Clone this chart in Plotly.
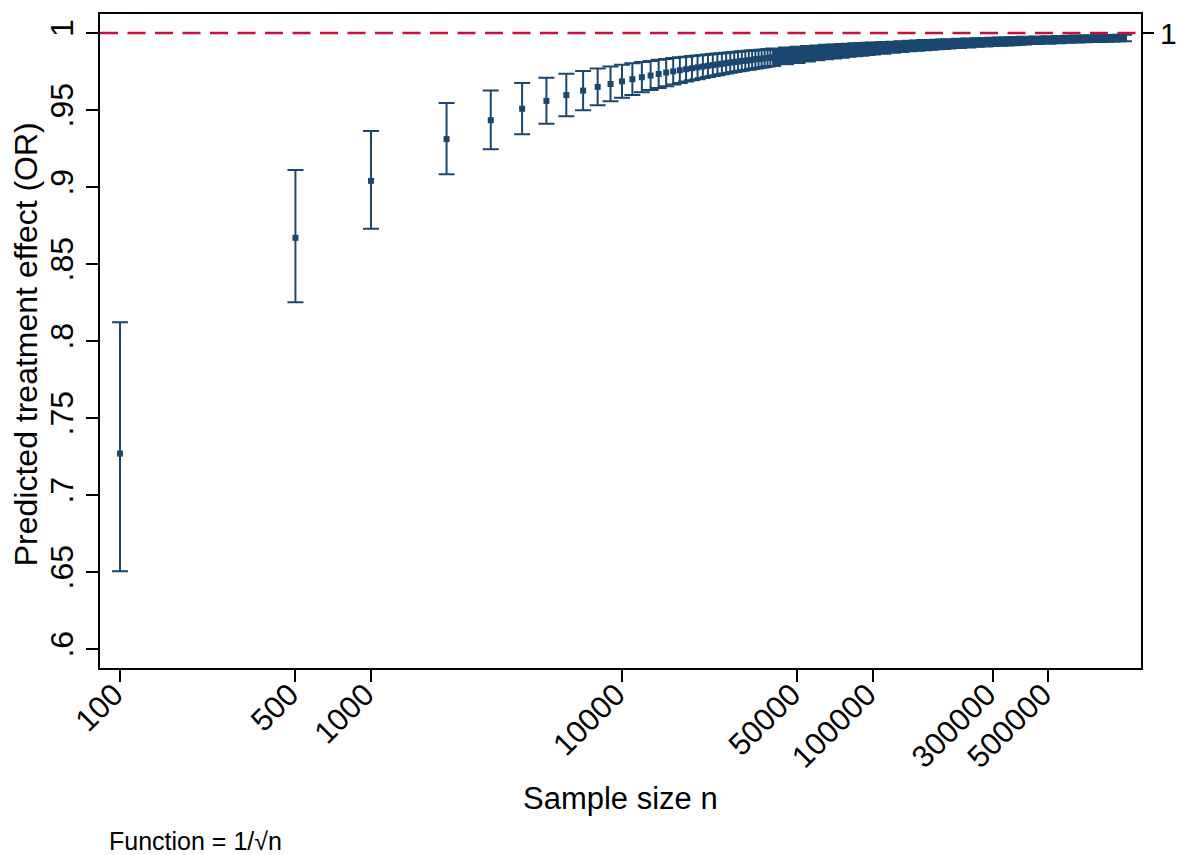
import numpy as np
import plotly.graph_objects as go

# ---------------- data ----------------
sample_n = [100, 500, 1000, 2000, 3000, 4000, 5000, 6000, 7000, 8000, 9000, 10000,
            11000, 12000, 13000, 14000, 15000, 16000, 17000, 18000, 19000, 20000,
            21000, 22000, 23000, 24000, 25000, 26000, 27000, 28000, 29000, 30000,
            31000, 32000, 33000, 34000, 35000, 36000, 37000, 38000, 39000, 40000,
            45000, 50000, 55000, 60000, 65000, 70000, 75000, 80000, 85000, 90000, 95000, 100000,
            110000, 120000, 130000, 140000, 150000, 160000, 170000, 180000, 190000, 200000,
            220000, 240000, 260000, 280000, 300000, 320000, 340000, 360000, 380000, 400000,
            450000, 500000, 550000, 600000, 650000, 700000, 750000, 800000, 850000, 900000, 950000, 1000000]

or_est = [0.7269, 0.8670, 0.9040, 0.9311, 0.9434, 0.9508, 0.9559, 0.9597, 0.9626, 0.9650, 0.9669, 0.9686,
          0.9700, 0.9713, 0.9724, 0.9734, 0.9743, 0.9751, 0.9758, 0.9765, 0.9771, 0.9777,
          0.9782, 0.9787, 0.9792, 0.9796, 0.9800, 0.9804, 0.9808, 0.9811, 0.9814, 0.9818,
          0.9820, 0.9823, 0.9826, 0.9829, 0.9831, 0.9833, 0.9836, 0.9838, 0.9840, 0.9842,
          0.9851, 0.9858, 0.9865, 0.9871, 0.9876, 0.9880, 0.9884, 0.9888, 0.9891, 0.9894, 0.9897, 0.9900,
          0.9904, 0.9908, 0.9912, 0.9915, 0.9918, 0.9921, 0.9923, 0.9925, 0.9927, 0.9929,
          0.9932, 0.9935, 0.9938, 0.9940, 0.9942, 0.9944, 0.9945, 0.9947, 0.9948, 0.9950,
          0.9953, 0.9955, 0.9957, 0.9959, 0.9960, 0.9962, 0.9963, 0.9964, 0.9965, 0.9966, 0.9967, 0.9968]

ci_low = [0.6505, 0.8251, 0.8729, 0.9083, 0.9245, 0.9343, 0.9410, 0.9460, 0.9499, 0.9531, 0.9557, 0.9579,
          0.9598, 0.9615, 0.9630, 0.9643, 0.9655, 0.9666, 0.9676, 0.9685, 0.9693, 0.9700,
          0.9708, 0.9714, 0.9720, 0.9726, 0.9732, 0.9737, 0.9742, 0.9746, 0.9751, 0.9755,
          0.9759, 0.9762, 0.9766, 0.9770, 0.9773, 0.9776, 0.9779, 0.9782, 0.9785, 0.9785,
          0.9797, 0.9806, 0.9815, 0.9823, 0.9830, 0.9835, 0.9840, 0.9845, 0.9849, 0.9853, 0.9857, 0.9861,
          0.9866, 0.9872, 0.9877, 0.9881, 0.9885, 0.9888, 0.9891, 0.9894, 0.9896, 0.9899,
          0.9903, 0.9906, 0.9910, 0.9913, 0.9915, 0.9918, 0.9919, 0.9921, 0.9923, 0.9925,
          0.9929, 0.9931, 0.9934, 0.9936, 0.9938, 0.9940, 0.9941, 0.9942, 0.9944, 0.9945, 0.9946, 0.9947]

ci_high = [0.8121, 0.9111, 0.9363, 0.9545, 0.9627, 0.9676, 0.9710, 0.9735, 0.9754, 0.9770, 0.9783, 0.9794,
           0.9804, 0.9812, 0.9819, 0.9826, 0.9832, 0.9837, 0.9842, 0.9846, 0.9850, 0.9854,
           0.9857, 0.9861, 0.9864, 0.9867, 0.9869, 0.9872, 0.9874, 0.9876, 0.9879, 0.9881,
           0.9883, 0.9884, 0.9886, 0.9888, 0.9889, 0.9891, 0.9892, 0.9894, 0.9895, 0.9900,
           0.9906, 0.9910, 0.9915, 0.9919, 0.9923, 0.9925, 0.9928, 0.9931, 0.9933, 0.9935, 0.9937, 0.9939,
           0.9942, 0.9944, 0.9947, 0.9949, 0.9952, 0.9954, 0.9955, 0.9957, 0.9958, 0.9959,
           0.9962, 0.9964, 0.9966, 0.9967, 0.9969, 0.9970, 0.9971, 0.9973, 0.9973, 0.9975,
           0.9977, 0.9979, 0.9980, 0.9982, 0.9983, 0.9984, 0.9985, 0.9986, 0.9986, 0.9987, 0.9988, 0.9989]

x_tick_vals = [100, 500, 1000, 10000, 50000, 100000, 300000, 500000]
x_tick_text = ["100", "500", "1000", "10000", "50000", "100000", "300000", "500000"]
y_tick_vals = [0.6, 0.65, 0.7, 0.75, 0.8, 0.85, 0.9, 0.95, 1.0]
y_tick_text = [".6", ".65", ".7", ".75", ".8", ".85", ".9", ".95", "1"]
reference_or = 1.0

# ---------------- styling ----------------
NAVY = "#1a476f"
RED = "#c8103c"
FONT = "Liberation Sans, Arial, Helvetica, sans-serif"

n = np.array(sample_n, dtype=float)
est = np.array(or_est)
lo = np.array(ci_low)
hi = np.array(ci_high)

X_RANGE = [1.9203, 6.0678]
Y_RANGE = [0.58766, 1.01234]

fig = go.Figure()

# dense region: very closely spaced CI bars merge into a solid band
dense = n >= 40000
fig.add_trace(go.Scatter(
    x=np.concatenate([n[dense], n[dense][::-1]]),
    y=np.concatenate([hi[dense], lo[dense][::-1]]),
    fill="toself", fillcolor=NAVY, line=dict(width=0, color=NAVY),
    mode="lines", hoverinfo="skip", showlegend=False,
))

fig.add_trace(go.Scatter(
    x=n, y=est, mode="markers",
    marker=dict(symbol="square", size=6, color=NAVY, line=dict(width=0)),
    error_y=dict(type="data", symmetric=False, array=hi - est, arrayminus=est - lo,
                 color=NAVY, thickness=2, width=8),
    showlegend=False,
))

# reference line at OR = 1
fig.add_trace(go.Scatter(
    x=[10 ** X_RANGE[0], 10 ** X_RANGE[1]], y=[reference_or, reference_or], mode="lines",
    line=dict(color=RED, width=2.3, dash="18px,9.5px"), showlegend=False, hoverinfo="skip",
))

# invisible trace to activate right axis
fig.add_trace(go.Scatter(x=[1000], y=[reference_or], yaxis="y2", mode="markers",
                         marker=dict(opacity=0), showlegend=False, hoverinfo="skip"))

fig.update_layout(
    width=1180, height=855,
    margin=dict(l=100, r=39, t=14, b=187, autoexpand=False),
    paper_bgcolor="white", plot_bgcolor="white",
    font=dict(family=FONT, color="black", size=30),
    xaxis=dict(
        type="log", range=X_RANGE, automargin=False,
        tickmode="array", tickvals=x_tick_vals, ticktext=x_tick_text,
        tickangle=-45, ticks="outside", ticklen=12, tickwidth=1.5, tickcolor="black",
        tickfont=dict(size=31), ticklabelstandoff=-18, ticklabelshift=-6,
        showline=True, linecolor="black", linewidth=2, mirror=True,
        showgrid=False, zeroline=False,
    ),
    yaxis=dict(
        range=Y_RANGE, automargin=False,
        tickmode="array", tickvals=y_tick_vals, ticktext=y_tick_text,
        tickangle=-90, ticks="outside", ticklen=12, tickwidth=1.5, tickcolor="black",
        tickfont=dict(size=32),
        showline=True, linecolor="black", linewidth=2, mirror=True,
        showgrid=False, zeroline=False,
    ),
    yaxis2=dict(
        range=Y_RANGE, overlaying="y", side="right", automargin=False,
        tickmode="array", tickvals=[reference_or], ticktext=["1"],
        ticks="outside", ticklen=12, tickwidth=1.5, tickcolor="black",
        tickfont=dict(size=30), showline=False, showgrid=False, zeroline=False,
    ),
    annotations=[
        dict(text="Sample size n", xref="paper", yref="paper", x=0.5, y=-0.2003,
             xanchor="center", yanchor="middle", showarrow=False, font=dict(size=31)),
        dict(text="Predicted treatment effect (OR)", xref="paper", yref="paper",
             x=-0.0711, y=0.495, xanchor="center", yanchor="middle", textangle=-90,
             showarrow=False, font=dict(size=32)),
        dict(text="Function = 1/\u221an", xref="paper", yref="paper", x=0.0067, y=-0.2645,
             xanchor="left", yanchor="middle", showarrow=False, font=dict(size=25)),
    ],
)

fig.write_html("out.html")
